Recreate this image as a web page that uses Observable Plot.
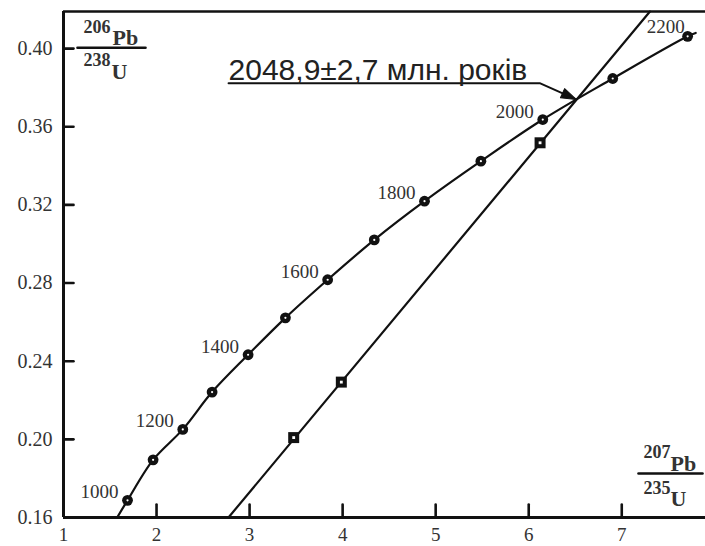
<!DOCTYPE html>
<html><head><meta charset="utf-8">
<script src="https://cdn.jsdelivr.net/npm/d3@7"></script>
<script src="https://cdn.jsdelivr.net/npm/@observablehq/plot@0.6"></script>
<style>body{margin:0;background:#fff}</style>
</head><body><div id="chart"></div>
<script>
// Concordia points (age in Ma, 207Pb/235U, 206Pb/238U)
const ages  = [1000, 1100, 1200, 1300, 1400, 1500, 1600, 1700, 1800, 1900, 2000, 2100, 2200];
const concX = [1.688, 1.963, 2.282, 2.597, 2.984, 3.385, 3.839, 4.340, 4.880, 5.486, 6.151, 6.903, 7.708];
const concY = [0.1688, 0.1895, 0.2051, 0.2242, 0.2433, 0.2622, 0.2817, 0.3021, 0.3219, 0.3424, 0.3637, 0.3847, 0.4063];
const concStart = [1.577, 0.16];
const concEnd = [7.795, 0.408];
const labeledAges = [1000, 1200, 1400, 1600, 1800, 2000, 2200];

// Discordia (sample points and line ends)
const discX = [3.474, 3.986, 6.122];
const discY = [0.2009, 0.2293, 0.3518];
const discLineX = [2.773, 7.303];
const discLineY = [0.16, 0.419];

// Annotation
const annoText = "2048,9±2,7 млн. років";
const annoX = [2.774, 6.118, 6.51];
const annoY = [0.3823, 0.3823, 0.374];

// Axes
const xTicks = [1, 2, 3, 4, 5, 6, 7];
const yTicks = [0.16, 0.20, 0.24, 0.28, 0.32, 0.36, 0.40];
const xDomain = [1, 7.9];
const yDomain = [0.16, 0.419];

const conc = ages.map((a, i) => ({age: a, x: concX[i], y: concY[i]}));
const concLine = [{x: concStart[0], y: concStart[1]}, ...conc, {x: concEnd[0], y: concEnd[1]}];
const disc = discX.map((x, i) => ({x, y: discY[i]}));
const discLine = discLineX.map((x, i) => ({x, y: discLineY[i]}));
const anno = annoX.map((x, i) => ({x, y: annoY[i]}));
const labels = conc.filter(d => labeledAges.includes(d.age));

const ink = "#111";
const serif = "Liberation Serif, Times New Roman, serif";
const lineShape = {draw(context, l) { context.moveTo(0, 0); context.lineTo(0, -l); }};
const headShape = {draw(context, l) { context.moveTo(-5, 0); context.lineTo(0, -l); context.lineTo(5, 0); context.closePath(); }};

const chart = Plot.plot({
  width: 705, height: 546,
  marginLeft: 63, marginRight: 0, marginTop: 11, marginBottom: 29,
  x: {domain: xDomain},
  y: {domain: yDomain},
  style: {background: "#fff", fontFamily: serif, overflow: "visible"},
  marks: [
    Plot.axisX({ticks: xTicks, tickSize: 0, tickPadding: 10, fontSize: 19, color: "#333", label: null, tickFormat: d => String(d)}),
    Plot.axisY({ticks: yTicks, tickSize: 0, tickPadding: 11, fontSize: 20, color: "#333", label: null, tickFormat: d3.format(".2f")}),
    Plot.vector(xTicks.slice(1), {x: d => d, y: yDomain[0], length: 13, rotate: 0, anchor: "start", shape: lineShape, stroke: ink, strokeWidth: 2.6}),
    Plot.vector(yTicks.slice(1), {x: xDomain[0], y: d => d, length: 10, rotate: 90, anchor: "start", shape: lineShape, stroke: ink, strokeWidth: 2.6}),
    Plot.ruleX([xDomain[0]], {stroke: ink, strokeWidth: 3}),
    Plot.ruleY([yDomain[0]], {stroke: ink, strokeWidth: 3}),
    Plot.ruleY([yDomain[1]], {stroke: ink, strokeWidth: 2.6}),
    Plot.line(concLine, {x: "x", y: "y", stroke: ink, strokeWidth: 2.2, curve: "catmull-rom"}),
    Plot.line(discLine, {x: "x", y: "y", stroke: ink, strokeWidth: 2.2}),
    Plot.dot(conc, {x: "x", y: "y", r: 5.4, fill: ink}),
    Plot.dot(conc, {x: "x", y: "y", r: 1.1, fill: "#fff"}),
    Plot.dot(disc, {x: "x", y: "y", symbol: "square", r: 6.2, fill: ink}),
    Plot.dot(disc, {x: "x", y: "y", symbol: "square", r: 1.6, fill: "#fff"}),
    Plot.text(labels.filter(d => d.age !== 2200), {x: "x", y: "y", text: d => String(d.age), dx: -9, dy: -2, textAnchor: "end", lineAnchor: "bottom", fontSize: 19, fill: "#333"}),
    Plot.text(labels.filter(d => d.age === 2200), {x: "x", y: "y", text: d => String(d.age), dx: -3, dy: -3, textAnchor: "end", lineAnchor: "bottom", fontSize: 19, fill: "#333"}),
    Plot.line(anno, {x: "x", y: "y", stroke: ink, strokeWidth: 2}),
    Plot.vector([anno[2]], {x: "x", y: "y", anchor: "end", shape: headShape, length: 15, rotate: 114.6, fill: ink, stroke: ink, strokeWidth: 1}),
    Plot.text([annoText], {x: annoX[0], y: annoY[0], text: d => d, dy: -3.5, textAnchor: "start", lineAnchor: "bottom", fontFamily: "Liberation Sans, Arial, sans-serif", fontSize: 30, fill: "#222"}),
    // axis fraction labels (top-left)
    Plot.text(["206"], {frameAnchor: "top-left", text: d => d, dx: 20, dy: 21, textAnchor: "start", lineAnchor: "bottom", fontSize: 18, fontWeight: "bold", fill: "#333"}),
    Plot.text(["Pb"], {frameAnchor: "top-left", text: d => d, dx: 49, dy: 33, textAnchor: "start", lineAnchor: "bottom", fontSize: 22, fontWeight: "bold", fill: "#333"}),
    Plot.vector([0], {frameAnchor: "top-left", dx: 14, dy: 36.3, length: 68, rotate: 90, anchor: "start", shape: lineShape, stroke: ink, strokeWidth: 2.6}),
    Plot.text(["238"], {frameAnchor: "top-left", text: d => d, dx: 20, dy: 54, textAnchor: "start", lineAnchor: "bottom", fontSize: 18, fontWeight: "bold", fill: "#333"}),
    Plot.text(["U"], {frameAnchor: "top-left", text: d => d, dx: 48, dy: 67, textAnchor: "start", lineAnchor: "bottom", fontSize: 22, fontWeight: "bold", fill: "#333"}),
    // axis fraction labels (bottom-right)
    Plot.text(["207"], {frameAnchor: "bottom-right", text: d => d, dx: -62, dy: -60, textAnchor: "start", lineAnchor: "bottom", fontSize: 18, fontWeight: "bold", fill: "#333"}),
    Plot.text(["Pb"], {frameAnchor: "bottom-right", text: d => d, dx: -35, dy: -47, textAnchor: "start", lineAnchor: "bottom", fontSize: 22, fontWeight: "bold", fill: "#333"}),
    Plot.vector([0], {frameAnchor: "bottom-right", dx: -67, dy: -44, length: 64, rotate: 90, anchor: "start", shape: lineShape, stroke: ink, strokeWidth: 2.6}),
    Plot.text(["235"], {frameAnchor: "bottom-right", text: d => d, dx: -62, dy: -24, textAnchor: "start", lineAnchor: "bottom", fontSize: 18, fontWeight: "bold", fill: "#333"}),
    Plot.text(["U"], {frameAnchor: "bottom-right", text: d => d, dx: -35, dy: -12, textAnchor: "start", lineAnchor: "bottom", fontSize: 22, fontWeight: "bold", fill: "#333"})
  ]
});
document.getElementById("chart").appendChild(chart);
</script>
</body></html>
